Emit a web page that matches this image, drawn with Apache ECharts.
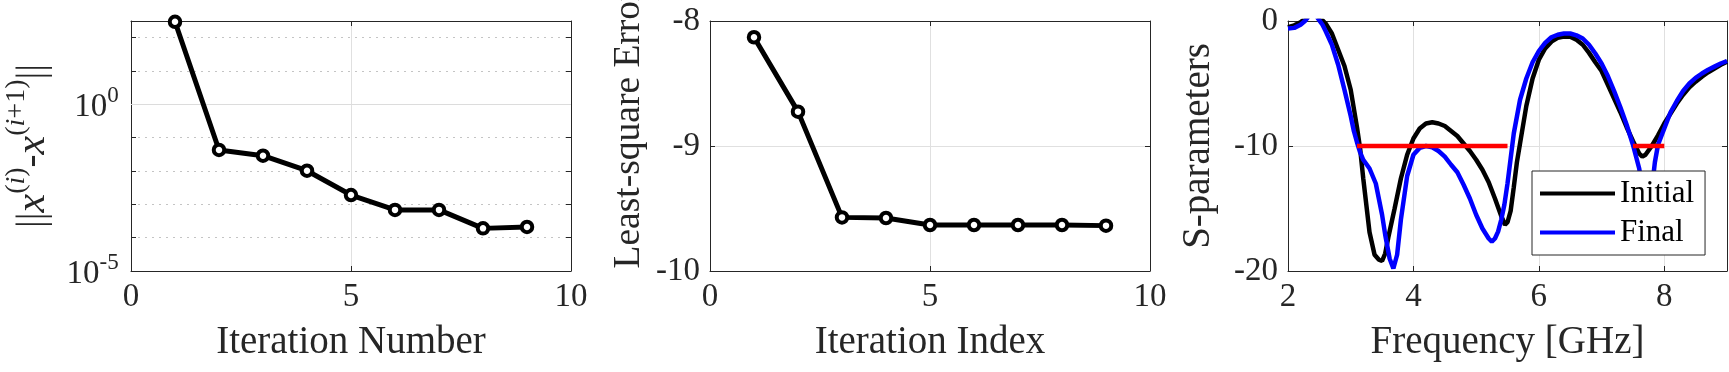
<!DOCTYPE html>
<html>
<head>
<meta charset="utf-8">
<script src="https://cdn.jsdelivr.net/npm/echarts@6/dist/echarts.min.js"></script>
<style>
html, body { margin: 0; padding: 0; background: #fff; }
#chartDom { width: 1729px; height: 372px; }
</style>
</head>
<body>
<div id="chartDom"></div>
<script>
// left: step norm per iteration (log scale)
const iterNumber = [1, 2, 3, 4, 5, 6, 7, 8, 9];
const stepNorm = [300, 0.0427, 0.0288, 0.0102, 0.0019, 0.00068, 0.00068, 0.00019, 0.00021];

// middle: least-square error per iteration
const iterIndex = [1, 2, 3, 4, 5, 6, 7, 8, 9];
const lsError = [-8.13, -8.725, -9.571, -9.576, -9.632, -9.632, -9.632, -9.632, -9.637];

// right: S-parameters [dB] vs frequency [GHz]
const freqInitial = [2.0, 2.1, 2.2, 2.3, 2.4, 2.5, 2.55, 2.6, 2.7, 2.8, 2.9, 3.0, 3.1, 3.15, 3.2, 3.3, 3.38, 3.45, 3.5, 3.55, 3.6, 3.7, 3.8, 3.9,
  4.0, 4.1, 4.2, 4.3, 4.4, 4.5, 4.6, 4.7, 4.8, 4.9, 5.0, 5.1, 5.2, 5.3, 5.4, 5.46, 5.5, 5.55, 5.6, 5.65, 5.7, 5.8, 5.9,
  6.0, 6.1, 6.2, 6.3, 6.4, 6.5, 6.6, 6.7, 6.8, 6.9, 7.0, 7.1, 7.2, 7.3, 7.4, 7.5, 7.6, 7.65, 7.7, 7.8, 7.9,
  8.0, 8.1, 8.2, 8.3, 8.4, 8.5, 8.6, 8.7, 8.8, 8.9, 9.0];
const sInitial = [-0.5, -0.35, -0.1, 0.3, 0.6, 0.3, 0.05, -0.2, -1.0, -2.3, -3.6, -5.5, -8.5, -10.2, -12.6, -16.9, -18.7, -19.1, -19.2, -18.6, -17.3, -15.0, -12.6, -10.7,
  -9.4, -8.6, -8.2, -8.1, -8.2, -8.4, -8.8, -9.2, -9.8, -10.4, -11.1, -11.9, -12.9, -14.2, -15.6, -16.3, -16.1, -15.2, -13.3, -11.3, -9.8, -6.8, -4.6,
  -3.1, -2.2, -1.65, -1.35, -1.25, -1.25, -1.5, -1.9, -2.55, -3.3, -4.0, -5.1, -6.2, -7.3, -8.5, -9.6, -10.6, -10.85, -10.7, -10.0, -9.15,
  -8.2, -7.4, -6.6, -5.9, -5.3, -4.85, -4.45, -4.1, -3.8, -3.5, -3.25];
const freqFinal = [2.0, 2.1, 2.2, 2.27, 2.35, 2.45, 2.5, 2.55, 2.6, 2.7, 2.8, 2.9, 3.0, 3.05, 3.1, 3.15, 3.2, 3.3, 3.4, 3.5, 3.55, 3.62, 3.68, 3.74, 3.8, 3.9,
  4.0, 4.1, 4.2, 4.3, 4.4, 4.5, 4.6, 4.7, 4.8, 4.9, 5.0, 5.1, 5.2, 5.25, 5.3, 5.35, 5.4, 5.45, 5.5, 5.55, 5.6, 5.7, 5.8, 5.9,
  6.0, 6.1, 6.2, 6.3, 6.4, 6.5, 6.6, 6.7, 6.8, 6.9, 7.0, 7.1, 7.2, 7.3, 7.4, 7.5, 7.6, 7.7, 7.75, 7.8, 7.85, 7.9,
  8.0, 8.1, 8.2, 8.3, 8.4, 8.5, 8.6, 8.7, 8.8, 8.9, 9.0];
const sFinal = [-0.6, -0.55, -0.3, 0.0, 0.5, 0.4, 0.05, -0.3, -0.8, -1.9, -3.5, -5.5, -7.6, -8.8, -9.7, -10.5, -11.1, -11.8, -13.0, -15.5, -17.1, -19.0, -19.8, -18.7, -15.9, -12.4,
  -10.7, -10.15, -10.0, -10.1, -10.4, -10.85, -11.5, -12.1, -13.1, -14.2, -15.5, -16.6, -17.4, -17.65, -17.4, -16.85, -15.9, -14.7, -13.0, -11.0, -9.0, -6.3, -4.6, -3.3,
  -2.4, -1.75, -1.3, -1.1, -1.0, -1.0, -1.15, -1.4, -1.9, -2.6, -3.4, -4.4, -5.6, -6.9, -8.3, -9.9, -11.8, -15.0, -16.0, -13.5, -11.3, -9.9,
  -8.6, -7.3, -6.4, -5.6, -5.0, -4.55, -4.2, -3.9, -3.65, -3.4, -3.2];
// design goal bands
const specStart = [3.1, 7.5];
const specEnd = [5.5, 8.0];
const specLevel = -10;

const font = "Liberation Serif";
const ink = "#262626";
const gridGray = "#e0e0e0";
const tickSize = 33;
const labelSize = 39;

function zip(xs, ys) {
  return xs.map((x, i) => [x, ys[i]]);
}

// bottom/left axis with labels and grid, plus a mirrored top/right axis for the box
function mainAxis(gridIndex, position, opts) {
  return Object.assign({
    gridIndex: gridIndex,
    position: position,
    type: "value",
    axisLine: { show: true, onZero: false, lineStyle: { color: ink, width: 1 } },
    axisTick: { show: true, inside: true, length: 5, lineStyle: { color: ink } },
    axisLabel: { color: ink, fontFamily: font, fontSize: tickSize, margin: 10, showMinLabel: true, showMaxLabel: true },
    splitLine: { show: true, lineStyle: { color: gridGray, width: 1 } },
    nameLocation: "middle",
    nameTextStyle: { color: ink, fontFamily: font, fontSize: labelSize },
  }, opts);
}
function mirrorAxis(gridIndex, position, opts) {
  return Object.assign({
    gridIndex: gridIndex,
    position: position,
    type: "value",
    axisLine: { show: true, onZero: false, lineStyle: { color: ink, width: 1 } },
    axisTick: { show: true, inside: true, length: 5, lineStyle: { color: ink } },
    axisLabel: { show: false },
    splitLine: { show: false },
  }, opts);
}

// only 10^0 and 10^-5 are labelled on the log axis
function logLabel(v) {
  const e = Math.round(Math.log10(v) * 100) / 100;
  if (e === 0) return "{b|10}{s|0}{z| }";
  if (e === -5) return "{b|10}{s|-5}{z| }";
  return "";
}

const myChart = echarts.init(document.getElementById("chartDom"));
myChart.setOption({
  animation: false,
  backgroundColor: "#fff",
  grid: [
    { left: 131, top: 21, width: 440, height: 250, outerBoundsMode: "none" },
    { left: 710, top: 21, width: 440, height: 250, outerBoundsMode: "none" },
    { left: 1288, top: 21, width: 439, height: 250, outerBoundsMode: "none" },
  ],
  legend: {
    data: ["Initial", "Final"],
    orient: "vertical",
    left: 1532,
    top: 171,
    icon: "rect",
    itemWidth: 75,
    itemHeight: 4,
    itemGap: 6,
    padding: [6, 11, 6, 8],
    backgroundColor: "#fff",
    borderColor: ink,
    borderWidth: 1,
    borderRadius: 0,
    textStyle: { color: "#000", fontFamily: font, fontSize: 31, lineHeight: 33 },
  },
  xAxis: [
    mainAxis(0, "bottom", { min: 0, max: 10, interval: 5, name: "Iteration Number", nameGap: 52 }),
    mirrorAxis(0, "top", { min: 0, max: 10, interval: 5 }),
    mainAxis(1, "bottom", { min: 0, max: 10, interval: 5, name: "Iteration Index", nameGap: 52 }),
    mirrorAxis(1, "top", { min: 0, max: 10, interval: 5 }),
    mainAxis(2, "bottom", {
      min: 2, max: 9, interval: 2, name: "Frequency [GHz]", nameGap: 52,
      axisLabel: { color: ink, fontFamily: font, fontSize: tickSize, margin: 10,
        formatter: (v) => (v % 2 === 0 ? String(v) : "") },
    }),
    mirrorAxis(2, "top", { min: 2, max: 9, interval: 2 }),
  ],
  yAxis: [
    mainAxis(0, "left", {
      type: "log", logBase: 10, min: 1e-5, max: 316.23,
      axisLabel: {
        color: ink, fontFamily: font, fontSize: tickSize, margin: 12,
        showMinLabel: true, showMaxLabel: true,
        formatter: logLabel,
        rich: {
          b: { fontFamily: font, fontSize: tickSize, color: ink, lineHeight: 25, verticalAlign: "bottom" },
          s: { fontFamily: font, fontSize: 23, color: ink, lineHeight: 23, verticalAlign: "top" },
          z: { fontSize: 1, lineHeight: 39 },
        },
      },
      splitLine: { show: true, lineStyle: { color: "#c4c4c4", width: 1, type: [2, 5] } },
      name: "||{x|x}{s|(}{si|i}{s|)}-{x|x}{s|(}{si|i}{s|+1)}||",
      nameGap: 66,
      nameTextStyle: {
        color: ink, fontFamily: font, fontSize: labelSize, lineHeight: 60,
        rich: {
          x: { fontFamily: font, fontStyle: "italic", fontSize: 42, color: ink, lineHeight: 60 },
          s: { fontFamily: font, fontSize: 28, color: ink, lineHeight: 28, verticalAlign: "top" },
          si: { fontFamily: font, fontStyle: "italic", fontSize: 28, color: ink, lineHeight: 28, verticalAlign: "top" },
        },
      },
    }),
    mirrorAxis(0, "right", { type: "log", logBase: 10, min: 1e-5, max: 316.23 }),
    mainAxis(1, "left", {
      min: -10, max: -8, interval: 1, name: "Least-square Error", nameGap: 62,
      nameTextStyle: { color: ink, fontFamily: font, fontSize: 37.5, padding: [0, 0, 0, 35] },
    }),
    mirrorAxis(1, "right", { min: -10, max: -8, interval: 1 }),
    mainAxis(2, "left", {
      min: -20, max: 0, interval: 10, name: "S-parameters", nameGap: 70,
    }),
    mirrorAxis(2, "right", { min: -20, max: 0, interval: 10 }),
  ],
  series: [
    {
      name: "step",
      type: "line",
      xAxisIndex: 0,
      yAxisIndex: 0,
      data: zip(iterNumber, stepNorm),
      symbol: "circle",
      symbolSize: 10.5,
      clip: false,
      lineStyle: { color: "#000", width: 5 },
      itemStyle: { color: "#fff", borderColor: "#000", borderWidth: 4 },
      markLine: {
        silent: true,
        z: 1,
        symbol: "none",
        label: { show: false },
        lineStyle: { color: "#dcdcdc", type: "solid", width: 1 },
        data: [{ yAxis: 1 }],
      },
    },
    {
      name: "lse",
      type: "line",
      xAxisIndex: 2,
      yAxisIndex: 2,
      data: zip(iterIndex, lsError),
      symbol: "circle",
      symbolSize: 10.5,
      lineStyle: { color: "#000", width: 5 },
      itemStyle: { color: "#fff", borderColor: "#000", borderWidth: 4 },
    },
    {
      name: "Initial",
      type: "line",
      xAxisIndex: 4,
      yAxisIndex: 4,
      data: zip(freqInitial, sInitial),
      symbol: "none",
      lineStyle: { color: "#000", width: 4.5 },
      itemStyle: { color: "#000" },
    },
    {
      name: "Final",
      type: "line",
      xAxisIndex: 4,
      yAxisIndex: 4,
      data: zip(freqFinal, sFinal),
      symbol: "none",
      lineStyle: { color: "#0000ff", width: 4.5 },
      itemStyle: { color: "#0000ff" },
    },
    {
      name: "goal1",
      type: "line",
      xAxisIndex: 4,
      yAxisIndex: 4,
      data: [[specStart[0], specLevel], [specEnd[0], specLevel]],
      symbol: "none",
      lineStyle: { color: "#ff0000", width: 4.5 },
    },
    {
      name: "goal2",
      type: "line",
      xAxisIndex: 4,
      yAxisIndex: 4,
      data: [[specStart[1], specLevel], [specEnd[1], specLevel]],
      symbol: "none",
      lineStyle: { color: "#ff0000", width: 4.5 },
    },
  ],
});
</script>
</body>
</html>
